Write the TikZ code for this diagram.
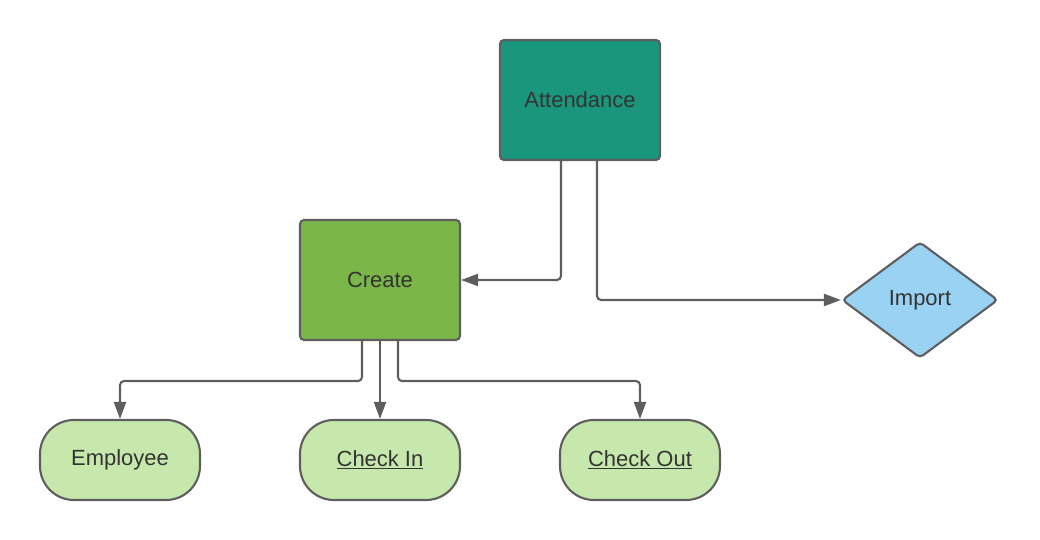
\documentclass[tikz,border=0pt]{standalone}
\usepackage{fontspec}
\setmainfont{Liberation Sans}
\usetikzlibrary{shapes.geometric,arrows.meta}
\definecolor{edgegray}{HTML}{5E5E5E}
\definecolor{textgray}{HTML}{333333}
\definecolor{tealbox}{HTML}{1A967D}
\definecolor{greenbox}{HTML}{7AB648}
\definecolor{bluebox}{HTML}{99D2F2}
\definecolor{palegreen}{HTML}{C7E8AC}
\begin{document}
\begin{tikzpicture}
[font=\fontsize{12.5}{15}\selectfont, text=textgray, line width=1.2pt,
module/.style={rectangle, draw=edgegray, rounded corners=0.08cm, minimum width=3.2cm, minimum height=2.4cm},
choice/.style={diamond, draw=edgegray, fill=bluebox, rounded corners=0.08cm, minimum width=3.12cm, minimum height=2.32cm, inner sep=0pt},
leaf/.style={rectangle, draw=edgegray, fill=palegreen, rounded corners=0.68cm, minimum width=3.2cm, minimum height=1.6cm},
link/.style={draw=edgegray, rounded corners=0.08cm, -{Triangle[length=0.34cm, width=0.24cm]}}]

\useasboundingbox (0,0) rectangle (20.8,10.8);

\node[module, fill=tealbox] (attendance) at (11.6,8.8) {Attendance};
\node[module, fill=greenbox] (create) at (7.6,5.2) {Create};
\node[choice] (import) at (18.4,4.8) {Import};

\node[leaf] (employee) at (2.4,1.6) {Employee};
\node[leaf] (checkin) at (7.6,1.6) {\underline{Check In}};
\node[leaf] (checkout) at (12.8,1.6) {\underline{Check Out}};

\draw[link] ([xshift=-0.38cm]attendance.south) |- (create.east);
\draw[link] ([xshift=0.34cm]attendance.south) |- (import.west);

\draw[link] ([xshift=-0.36cm]create.south) -- ++(0,-0.8) -| (employee.north);
\draw[link] (create.south) -- (checkin.north);
\draw[link] ([xshift=0.36cm]create.south) -- ++(0,-0.8) -| (checkout.north);
\end{tikzpicture}
\end{document}
